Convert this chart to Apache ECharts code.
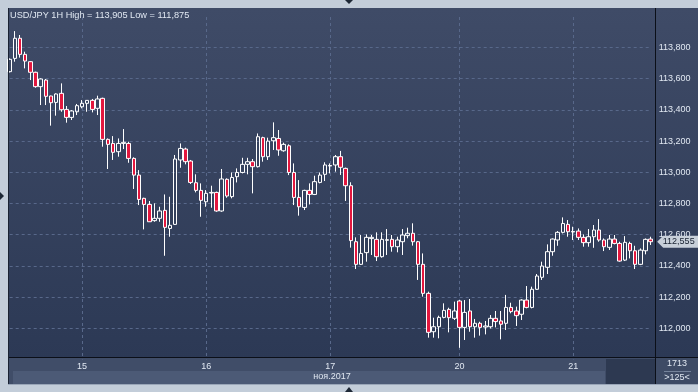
<!DOCTYPE html>
<html><head><meta charset="utf-8">
<script src="https://cdn.jsdelivr.net/npm/echarts@6/dist/echarts.min.js"></script>
<style>html,body{margin:0;padding:0;background:#c3cdd9}#c{width:698px;height:392px}</style>
</head><body><div id="c"></div>
<script>
const symbolName = 'USD/JPY';
const timeframe = '1H';
const monthLabel = 'ноя.2017';
const barsTotal = '1713';
const barsVisible = '>125<';
// [day, first hour, number of hourly bars]
const daySegments = [['14',10,14],['15',0,24],['16',0,24],['17',0,24],['19',23,1],['20',0,22],['21',0,16]];

const open = [113.645,113.730,113.859,113.756,113.709,113.641,113.549,113.591,113.489,113.448,
113.506,113.403,113.352,113.388,113.420,113.442,113.461,113.410,113.474,113.211,
113.185,113.132,113.185,113.185,113.089,112.982,112.833,112.794,112.690,112.705,
112.756,112.640,112.666,113.079,113.149,113.072,112.933,112.884,112.811,112.867,
112.871,112.752,112.955,112.844,112.972,112.999,113.051,113.068,113.036,113.222,
113.100,113.202,113.217,113.138,113.170,112.999,112.839,112.775,112.884,112.858,
112.935,112.987,113.040,113.047,113.100,113.025,112.914,112.555,112.410,112.485,
112.575,112.570,112.459,112.564,112.570,112.523,112.555,112.594,112.609,112.555,
112.410,112.224,111.978,112.010,112.070,112.121,112.064,112.175,112.006,112.111,
112.010,112.032,112.008,112.010,112.064,112.047,112.032,112.134,112.111,112.090,
112.181,112.134,112.250,112.327,112.391,112.491,112.566,112.615,112.666,112.617,
112.623,112.583,112.549,112.587,112.630,112.566,112.519,112.572,112.544,112.437,
112.544,112.497,112.410,112.497,112.572];
const close = [113.724,113.859,113.756,113.713,113.641,113.549,113.598,113.487,113.446,113.502,
113.401,113.352,113.393,113.427,113.442,113.461,113.403,113.470,113.211,113.179,
113.128,113.185,113.192,113.089,112.982,112.826,112.794,112.683,112.705,112.752,
112.647,112.660,113.085,113.153,113.068,112.935,112.884,112.820,112.865,112.871,
112.752,112.957,112.848,112.967,112.999,113.051,113.068,113.036,113.228,113.100,
113.200,113.222,113.143,113.179,112.999,112.839,112.779,112.884,112.858,112.940,
112.982,113.047,113.044,113.100,113.032,112.914,112.562,112.410,112.480,112.583,
112.583,112.459,112.570,112.568,112.523,112.566,112.598,112.609,112.555,112.410,
112.224,111.974,112.010,112.070,112.115,112.068,112.111,112.006,112.102,112.010,
112.032,112.006,112.015,112.064,112.043,112.026,112.134,112.107,112.081,112.181,
112.134,112.250,112.335,112.399,112.491,112.572,112.615,112.672,112.619,112.621,
112.583,112.549,112.587,112.630,112.566,112.523,112.572,112.544,112.431,112.551,
112.497,112.410,112.501,112.570,112.555];
const low = [113.640,113.709,113.735,113.666,113.591,113.542,113.431,113.431,113.299,113.363,
113.388,113.318,113.335,113.367,113.410,113.388,113.384,113.367,113.164,113.021,
113.079,113.100,113.149,113.061,112.893,112.790,112.634,112.683,112.683,112.683,
112.465,112.587,112.662,113.029,113.051,112.925,112.871,112.715,112.779,112.773,
112.747,112.747,112.837,112.833,112.935,112.993,112.987,112.865,113.031,113.068,
113.079,113.143,113.106,113.132,112.982,112.790,112.722,112.758,112.794,112.854,
112.929,112.944,112.993,113.004,112.983,112.816,112.517,112.380,112.406,112.427,
112.470,112.431,112.453,112.470,112.491,112.487,112.470,112.577,112.530,112.310,
112.203,111.940,111.940,111.936,112.064,111.974,112.053,111.875,111.925,111.978,
111.940,111.953,111.961,111.999,112.006,111.929,111.989,112.096,112.015,112.053,
112.128,112.128,112.246,112.310,112.348,112.465,112.529,112.608,112.587,112.566,
112.566,112.523,112.523,112.516,112.555,112.495,112.502,112.538,112.427,112.431,
112.448,112.380,112.405,112.474,112.534];
const high = [113.730,113.905,113.880,113.773,113.713,113.645,113.602,113.598,113.491,113.506,
113.570,113.425,113.399,113.438,113.463,113.463,113.470,113.491,113.478,113.217,
113.232,113.217,113.277,113.196,113.096,113.014,112.837,112.816,112.801,112.779,
112.858,112.843,113.111,113.185,113.158,113.079,112.987,112.929,112.886,112.914,
112.876,113.021,112.961,112.999,113.025,113.093,113.093,113.085,113.249,113.228,
113.222,113.320,113.271,113.190,113.179,113.057,112.950,112.888,112.929,112.978,
112.999,113.064,113.057,113.111,113.137,113.030,112.936,112.583,112.598,112.602,
112.598,112.615,112.615,112.636,112.598,112.587,112.636,112.645,112.673,112.560,
112.480,112.235,112.068,112.081,112.160,112.132,112.171,112.181,112.181,112.188,
112.060,112.042,112.047,112.085,112.111,112.111,112.214,112.164,112.139,112.186,
112.271,112.267,112.348,112.427,112.538,112.576,112.623,112.711,112.694,112.651,
112.640,112.602,112.636,112.662,112.700,112.576,112.598,112.598,112.555,112.591,
112.555,112.529,112.512,112.576,112.587];

const categories = [];
daySegments.forEach(([d, h0, n]) => {
  for (let k = 0; k < n; k++) categories.push(d + ' ' + String(h0 + k).padStart(2, '0') + ':00');
});
const isDayStart = v => v.endsWith(' 00:00');
const fmt = v => v.toFixed(3).replace('.', ',');
const candles = open.map((o, i) => [o, close[i], low[i], high[i]]);
const lastClose = close[close.length - 1];
const titleText = symbolName + ' ' + timeframe + ' High = ' + fmt(Math.max(...high)) + ' Low = ' + fmt(Math.min(...low));

const FONT = '"Liberation Sans", Arial, sans-serif';
const TXT = '#e1e8f2';
const GRID = '#58688a';

const chart = echarts.init(document.getElementById('c'), null, {renderer: 'canvas'});
chart.setOption({
  animation: false,
  backgroundColor: '#c3cdd9',
  textStyle: {fontFamily: FONT},
  title: {text: titleText, left: 10, top: 11, padding: 0, textStyle: {color: TXT, fontSize: 9.2, fontWeight: 'normal', fontFamily: FONT}},
  grid: {left: 9.7, right: 47.3, top: 17, bottom: 32.5},
  xAxis: {
    type: 'category', data: categories, boundaryGap: false,
    axisLine: {show: false}, axisTick: {show: false},
    axisLabel: {interval: (i, v) => isDayStart(v), formatter: v => v.split(' ')[0], color: TXT, fontSize: 9, margin: 3, fontFamily: FONT},
    splitLine: {show: true, interval: (i, v) => isDayStart(v), lineStyle: {color: GRID, type: [3, 3], width: 1}}
  },
  yAxis: {
    type: 'value', position: 'right', min: 111.8, max: 113.9954, interval: 0.2,
    axisLine: {show: false}, axisTick: {show: false},
    axisLabel: {color: TXT, fontSize: 9, margin: 8, fontFamily: FONT, formatter: v => (v > 111.9 && v < 113.9) ? fmt(v) : ''},
    splitLine: {show: true, showMinLine: false, showMaxLine: false, lineStyle: {color: GRID, type: [3, 3], width: 1}}
  },
  series: [{
    type: 'candlestick', data: candles, barWidth: 4, clip: false,
    itemStyle: {color: 'rgba(0,0,0,0)', color0: '#e3173e', borderColor: '#ffffff', borderColor0: '#ffffff', borderWidth: 1},
    markPoint: {
      silent: true,
      symbol: 'path://M0,6L6,0L41,0L41,12L6,12Z',
      symbolSize: [41, 12], symbolKeepAspect: false, symbolOffset: [27, 0],
      itemStyle: {color: '#c8d0da'},
      label: {show: true, position: 'inside', formatter: fmt(lastClose), color: '#172030', fontSize: 9, fontFamily: FONT, offset: [1, 0]},
      data: [{coord: [categories[categories.length - 1], lastClose], value: lastClose}]
    }
  }],
  graphic: {elements: [
    {type: 'rect', z: -10, shape: {x: 8, y: 8, width: 690, height: 350},
     style: {fill: new echarts.graphic.LinearGradient(0, 0, 0, 1, [{offset: 0, color: '#3f4b67'}, {offset: 1, color: '#2c3955'}])}},
    {type: 'rect', z: -10, shape: {x: 8, y: 358, width: 690, height: 27}, style: {fill: '#404d68'}},
    {type: 'rect', z: -9, shape: {x: 13, y: 371, width: 592, height: 13}, style: {fill: '#4c5a76'}},
    {type: 'rect', z: -9, shape: {x: 606, y: 359, width: 49, height: 25}, style: {fill: '#2d3951'}},
    {type: 'rect', z: -9, shape: {x: 656, y: 358, width: 42, height: 27}, style: {fill: '#3e4b65'}},
    {type: 'line', z: 10, shape: {x1: 8, y1: 357.5, x2: 698, y2: 357.5}, style: {stroke: '#0b0f18', lineWidth: 1}},
    {type: 'line', z: 10, shape: {x1: 655.5, y1: 8, x2: 655.5, y2: 385}, style: {stroke: '#0b0f18', lineWidth: 1}},
    {type: 'line', z: 10, shape: {x1: 8.5, y1: 8, x2: 8.5, y2: 385}, style: {stroke: '#1a2232', lineWidth: 1}},
    {type: 'line', z: 10, shape: {x1: 8, y1: 384.5, x2: 698, y2: 384.5}, style: {stroke: '#9aa6b8', lineWidth: 1}},
    {type: 'line', z: 10, shape: {x1: 664, y1: 371.5, x2: 691, y2: 371.5}, style: {stroke: '#75839b', lineWidth: 1}},
    {type: 'text', z: 10, style: {text: monthLabel, x: 332, y: 377, fill: TXT, fontSize: 9, fontFamily: FONT, align: 'center', verticalAlign: 'middle'}},
    {type: 'text', z: 10, style: {text: barsTotal, x: 677, y: 364, fill: TXT, fontSize: 9, fontFamily: FONT, align: 'center', verticalAlign: 'middle'}},
    {type: 'text', z: 10, style: {text: barsVisible, x: 677, y: 378, fill: TXT, fontSize: 9, fontFamily: FONT, align: 'center', verticalAlign: 'middle'}},
    {type: 'polygon', z: 10, shape: {points: [[345, 0], [353, 0], [349, 4]]}, style: {fill: '#1d2735'}},
    {type: 'polygon', z: 10, shape: {points: [[345, 392], [353, 392], [349, 387]]}, style: {fill: '#1d2735'}},
    {type: 'polygon', z: 10, shape: {points: [[0, 192], [0, 200], [4, 196]]}, style: {fill: '#1d2735'}}
  ]}
});
</script></body></html>
